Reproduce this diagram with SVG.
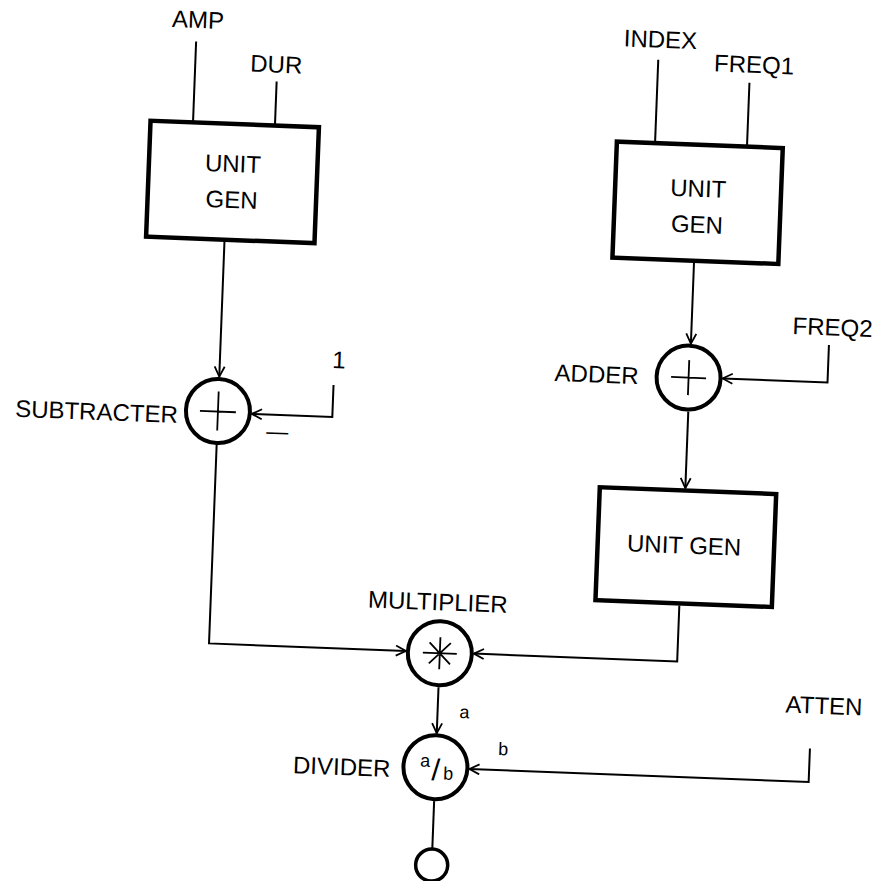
<svg xmlns="http://www.w3.org/2000/svg" width="875" height="881" viewBox="0 0 875 881">
<style>
.t{font-family:"Liberation Sans",Arial,sans-serif;font-size:24px;fill:#000}
.m{text-anchor:middle}
.e{text-anchor:end}
.s{font-size:18px}
.box{fill:#fff;stroke:#000;stroke-width:4.5}
.op{fill:#fff;stroke:#000;stroke-width:4}
.sym{stroke:#000;stroke-width:1.8;fill:none}
.c{fill:none;stroke:#000;stroke-width:2}
.arr{marker-end:url(#ah)}
</style>
<defs>
<marker id="ah" markerUnits="userSpaceOnUse" viewBox="0 0 12 12" refX="11" refY="6" markerWidth="12" markerHeight="12" orient="auto">
<path d="M1,1 L11,6 L1,11" fill="none" stroke="#000" stroke-width="1.8"/>
</marker>
</defs>
<rect width="875" height="881" fill="#fff"/>
<g transform="rotate(2.2 437 440)">
<g id="connectors">
<path class="c" d="M181,51 V132"/>
<path class="c" d="M263,88 V132"/>
<path class="c" d="M643.5,51.5 V135"/>
<path class="c" d="M735.5,71 V135"/>
<path class="c arr" d="M217,250 V385"/>
<path class="c arr" d="M331.5,389 V421 H251"/>
<path class="c arr" d="M217,452 V652 H414"/>
<path class="c arr" d="M687,253 V334"/>
<path class="c arr" d="M825,330 V367.5 H720"/>
<path class="c arr" d="M687,402 V478.5"/>
<path class="c arr" d="M685.5,596 V652 H482"/>
<path class="c arr" d="M448,687 V733"/>
<path class="c arr" d="M821.5,734 V767.5 H482"/>
<path class="c" d="M448,801 V849"/>
</g>
<g id="in-amp"><text class="t" x="156" y="37.5">AMP</text></g>
<g id="in-dur"><text class="t" x="236" y="79">DUR</text></g>
<g id="in-index"><text class="t m" x="645" y="39.5">INDEX</text></g>
<g id="in-freq1"><text class="t m" x="739.5" y="61">FREQ1</text></g>
<g id="in-freq2"><text class="t" x="788" y="320.5">FREQ2</text></g>
<g id="in-one"><text class="t m" x="336" y="372">1</text><text class="t m" style="font-size:22px" x="277" y="445">—</text></g>
<g id="in-atten"><text class="t m" x="834" y="699">ATTEN</text></g>
<g id="unitgen1">
<rect class="box" x="138.5" y="132" width="168.5" height="116"/>
<text class="t m" x="222.5" y="180">UNIT</text>
<text class="t m" x="222.5" y="216">GEN</text>
</g>
<g id="unitgen2">
<rect class="box" x="605.3" y="135" width="166" height="116"/>
<text class="t m" x="688.5" y="187">UNIT</text>
<text class="t m" x="688.5" y="223">GEN</text>
</g>
<g id="subtracter">
<circle class="op" cx="217" cy="419.5" r="32"/>
<path class="sym" d="M199,420 H235 M217,400 V439"/>
<text class="t e" x="177" y="433">SUBTRACTER</text>
</g>
<g id="adder">
<circle class="op" cx="686" cy="368" r="32"/>
<path class="sym" d="M668.5,368 H703.5 M686,350.5 V385.5"/>
<text class="t m" x="594" y="376.5">ADDER</text>
</g>
<g id="unitgen3">
<rect class="box" x="601.5" y="481" width="176.5" height="113"/>
<text class="t m" x="688" y="544">UNIT GEN</text>
</g>
<g id="multiplier">
<circle class="op" cx="448" cy="653" r="32"/>
<path class="sym" d="M431,653 H465 M448,637 V669 M437.4,642.4 L458.6,663.6 M458.6,642.4 L437.4,663.6"/>
<text class="t m" x="444" y="610">MULTIPLIER</text>
<text class="t m s" x="475" y="717">a</text>
</g>
<g id="divider">
<circle class="op" cx="448" cy="767" r="32"/>
<text class="t m" style="font-size:18px" x="437.5" y="767">a</text>
<text class="t m" style="font-size:30px" x="448.5" y="780">/</text>
<text class="t m" style="font-size:18px" x="461" y="779">b</text>
<text class="t e" x="403" y="778.5">DIVIDER</text>
<text class="t m s" x="515" y="752.5">b</text>
</g>
<g id="output">
<circle class="op" cx="448" cy="865" r="16" style="stroke-width:3.5"/>
</g>
</g>
</svg>
